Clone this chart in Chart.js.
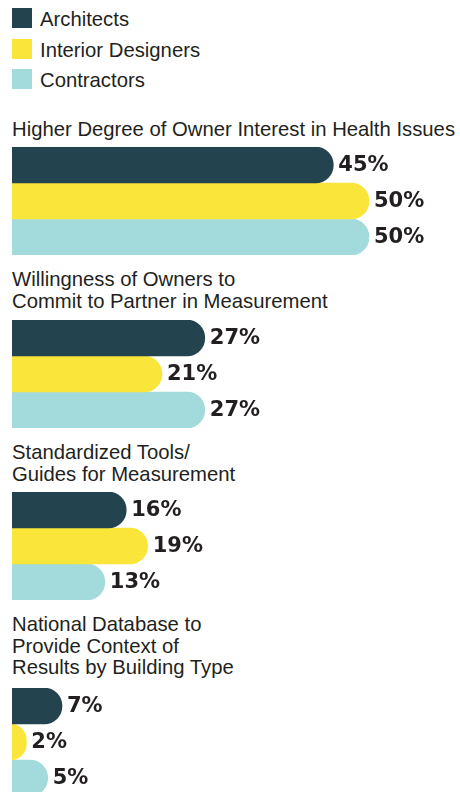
<!DOCTYPE html>
<html>
<head>
<meta charset="utf-8">
<script src="https://cdn.jsdelivr.net/npm/chart.js@4.4.1/dist/chart.umd.min.js"></script>
<style>
html,body{margin:0;padding:0;width:460px;height:792px;overflow:hidden;background:#ffffff;}
body{position:relative;font-family:"Liberation Sans",Arial,sans-serif;color:#231f20;}
.swatch{position:absolute;left:12px;width:20px;height:20px;}
.legend-text{position:absolute;left:40px;font-size:20.3px;line-height:20px;white-space:nowrap;}
.title{position:absolute;left:12px;font-size:20.3px;line-height:21.7px;white-space:nowrap;}
canvas{position:absolute;left:12px;}
</style>
</head>
<body>
<script>
// ---- data ----
const categories = [
  ["Higher Degree of Owner Interest in Health Issues"],
  ["Willingness of Owners to", "Commit to Partner in Measurement"],
  ["Standardized Tools/", "Guides for Measurement"],
  ["National Database to", "Provide Context of", "Results by Building Type"]
];
const seriesNames = ["Architects", "Interior Designers", "Contractors"];
const architects = [45, 27, 16, 7];
const interiorDesigners = [50, 21, 19, 2];
const contractors = [50, 27, 13, 5];

// ---- styles / layout ----
const seriesColors = ["#23434e", "#fae53b", "#a3dadc"];
const legendTops = [8, 38.5, 69];
const titleTops = [119, 269, 442, 614];
const chartTops = [147, 320, 492, 688];
const chartWidth = 448, chartHeight = 108;
const pxPerUnit = 7.14;

const seriesValues = [architects, interiorDesigners, contractors];

// legend
seriesNames.forEach((name, i) => {
  const sw = document.createElement('div');
  sw.className = 'swatch';
  sw.style.top = legendTops[i] + 'px';
  sw.style.background = seriesColors[i];
  document.body.appendChild(sw);
  const tx = document.createElement('div');
  tx.className = 'legend-text';
  tx.style.top = (legendTops[i] + 1) + 'px';
  tx.textContent = name;
  document.body.appendChild(tx);
});

const valueLabels = {
  id: 'valueLabels',
  afterDatasetsDraw(chart) {
    const ctx = chart.ctx;
    ctx.save();
    ctx.font = 'bold 21px "DejaVu Sans", sans-serif';
    ctx.fillStyle = '#231f20';
    ctx.textAlign = 'left';
    ctx.textBaseline = 'middle';
    chart.data.datasets.forEach((ds, di) => {
      const meta = chart.getDatasetMeta(di);
      meta.data.forEach((el, j) => {
        ctx.fillText(ds.data[j] + '%', el.x + 5, el.y + 1);
      });
    });
    ctx.restore();
  }
};

categories.forEach((lines, gi) => {
  const t = document.createElement('div');
  t.className = 'title';
  t.style.top = titleTops[gi] + 'px';
  t.innerHTML = lines.map(l => l.replace(/&/g,'&amp;').replace(/</g,'&lt;')).join('<br>');
  document.body.appendChild(t);

  const c = document.createElement('canvas');
  c.width = chartWidth; c.height = chartHeight;
  c.style.width = chartWidth + 'px'; c.style.height = chartHeight + 'px';
  c.style.top = chartTops[gi] + 'px';
  document.body.appendChild(c);

  new Chart(c, {
    type: 'bar',
    data: {
      labels: [lines.join(' ')],
      datasets: seriesNames.map((name, si) => ({
        label: name,
        data: [seriesValues[si][gi]],
        backgroundColor: seriesColors[si],
        borderWidth: 0,
        borderRadius: 18,
        borderSkipped: 'start',
        base: -2.5,
        clip: 0,
        categoryPercentage: 1,
        barPercentage: 1
      }))
    },
    options: {
      indexAxis: 'y',
      responsive: false,
      animation: false,
      devicePixelRatio: 1,
      layout: { padding: 0 },
      plugins: { legend: { display: false }, tooltip: { enabled: false } },
      scales: {
        x: { type: 'linear', min: 0, max: chartWidth / pxPerUnit, display: false },
        y: { display: false }
      }
    },
    plugins: [valueLabels]
  });
});
</script>
</body>
</html>
